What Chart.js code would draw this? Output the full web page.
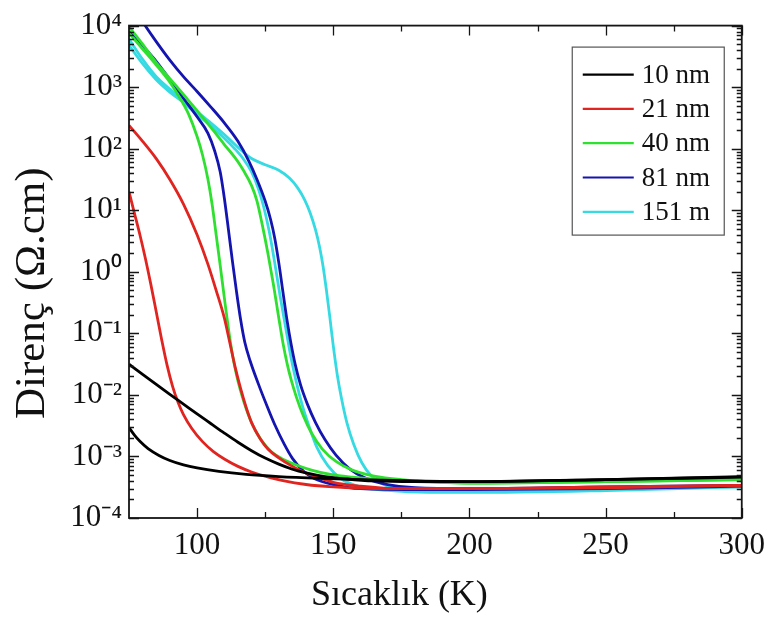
<!DOCTYPE html>
<html>
<head>
<meta charset="utf-8">
<script src="https://cdn.jsdelivr.net/npm/chart.js@4.4.1/dist/chart.umd.min.js"></script>
<style>
html,body{margin:0;padding:0;background:#ffffff;}
#wrap{width:774px;height:619px;}
</style>
</head>
<body>
<div id="wrap"><canvas id="c" width="774" height="619"></canvas></div>
<script>
// ---- axis definitions ----
const xTickValues = [100, 150, 200, 250, 300];
const xMinorTicks = [125, 175, 225, 275];
const yExponents = [-4, -3, -2, -1, 0, 1, 2, 3, 4];

// ---- series ----
const seriesLabels = ['10 nm', '21 nm', '40 nm', '81 nm', '151 m'];
const seriesColors = ['#000000', '#e02420', '#30e030', '#1414b0', '#35dae2'];

// 10 nm (two branches)
const T_10a = [75, 80, 85, 90, 95, 100, 105, 110, 115, 120, 125, 130, 135, 140, 147, 155, 165, 180, 200, 250, 300];
const R_10a = [0.0316, 0.0216, 0.0148, 0.0102, 0.00708, 0.0049, 0.00343, 0.0024, 0.0017, 0.00124, 0.00094, 0.00075, 0.00062, 0.00054, 0.00047, 0.00043, 0.0004, 0.00039, 0.00039, 0.00042, 0.00047];
const T_10b = [75, 77, 79, 82, 86, 90, 95, 100, 108, 118, 130, 145, 160, 180, 200, 250, 300];
const R_10b = [0.00295, 0.00222, 0.00176, 0.00134, 0.00104, 0.00086, 0.00073, 0.00065, 0.00057, 0.00051, 0.00047, 0.00044, 0.00042, 0.0004, 0.00039, 0.00042, 0.00046];

// 21 nm
const T_21a = [75, 80, 85, 90, 95, 100, 104, 107, 110, 112, 114, 116, 118, 120, 123, 126, 130, 135, 140, 145, 150, 160, 175, 200, 250, 300];
const R_21a = [240, 132, 69, 31.6, 12.6, 4.0, 1.32, 0.5, 0.178, 0.071, 0.028, 0.0126, 0.0063, 0.00355, 0.002, 0.00132, 0.00095, 0.00069, 0.00054, 0.00045, 0.00038, 0.00033, 0.0003, 0.0003, 0.00032, 0.00034];
const T_21b = [75, 77, 79, 81, 83, 85, 87, 89, 91, 93, 95, 98, 102, 106, 110, 115, 120, 125, 132, 140, 150, 165, 200, 250, 300];
const R_21b = [20, 8.9, 4.0, 1.66, 0.63, 0.224, 0.079, 0.0302, 0.0138, 0.00759, 0.00479, 0.00288, 0.00174, 0.0012, 0.00091, 0.00069, 0.00056, 0.00048, 0.0004, 0.00035, 0.00032, 0.0003, 0.0003, 0.00031, 0.00034];

// 40 nm
const T_40a = [75, 80, 85, 90, 94, 97, 100, 102, 104, 105.5, 107, 108.5, 110, 111.5, 113, 114.5, 116, 118, 120.5, 123.5, 127, 131, 136, 142, 149, 157, 167, 180, 200, 250, 300];
const R_40a = [7600, 4170, 2290, 1200, 631, 355, 158, 79, 31.6, 12.6, 4.0, 1.26, 0.38, 0.12, 0.0447, 0.0209, 0.0115, 0.006, 0.00316, 0.00186, 0.00123, 0.00093, 0.00074, 0.0006, 0.00051, 0.00046, 0.00042, 0.00039, 0.00037, 0.00039, 0.00042];
const T_40b = [75, 80, 85, 90, 95, 100, 105, 110, 114, 117, 120, 122, 124, 126, 128, 130, 131.5, 133, 134.5, 136.5, 139, 142, 146, 151, 157, 165, 175, 190, 200, 250, 300];
const R_40b = [9550, 5010, 2510, 1380, 759, 417, 224, 117, 70.8, 44.7, 25.1, 14.1, 5.62, 2.0, 0.631, 0.178, 0.0708, 0.0331, 0.0178, 0.00912, 0.00457, 0.0024, 0.00132, 0.00083, 0.0006, 0.00048, 0.00042, 0.00038, 0.00037, 0.00039, 0.00042];

// 81 nm
const T_81a = [75, 80, 85, 90, 95, 100, 105, 110, 115, 119, 122, 125, 127, 128.5, 130, 131.5, 133, 134.5, 136, 138, 140.5, 143.5, 147, 151, 156, 162, 170, 180, 200, 250, 300];
const R_81a = [25000, 11500, 5500, 2750, 1480, 851, 479, 263, 132, 63, 31.6, 14.1, 7.08, 3.55, 1.41, 0.479, 0.166, 0.0676, 0.0316, 0.0145, 0.00708, 0.00355, 0.00186, 0.00105, 0.00063, 0.00044, 0.00035, 0.00031, 0.0003, 0.00032, 0.00034];
const T_81b = [75, 80, 85, 90, 95, 100, 104, 106.5, 108.5, 110, 111.5, 113, 114.5, 116, 117.5, 119.5, 122.5, 125.5, 128.5, 132, 135, 139, 143, 150, 160, 180, 200, 250, 300];
const R_81b = [7940, 4680, 2630, 1320, 660, 331, 178, 91, 41.7, 15.8, 4.9, 1.46, 0.468, 0.166, 0.0724, 0.0355, 0.0151, 0.0069, 0.0033, 0.00158, 0.00093, 0.00058, 0.00044, 0.00035, 0.0003, 0.00029, 0.00029, 0.0003, 0.00033];

// 151 nm
const T_151a = [75, 80, 85, 90, 95, 100, 105, 110, 115, 120, 125, 130, 134, 137, 139.5, 141.5, 143.5, 145, 146.3, 147.5, 148.7, 150, 151.5, 153, 155, 157.5, 160.5, 164, 168.5, 176, 190, 200, 250, 300];
const R_151a = [6030, 2820, 1480, 933, 603, 398, 263, 170, 105, 69.2, 55, 44.7, 33.1, 22.9, 14.8, 9.12, 4.79, 2.51, 1.2, 0.5, 0.19, 0.063, 0.0209, 0.0089, 0.00355, 0.00158, 0.00079, 0.00048, 0.00035, 0.0003, 0.00028, 0.00028, 0.0003, 0.00032];
const T_151b = [75, 80, 85, 90, 95, 100, 105, 110, 114, 117, 120, 122.5, 124.5, 126.5, 128.5, 130.5, 132.5, 134.5, 136.5, 138.5, 141, 144, 148, 153, 160, 170, 185, 200, 250, 300];
const R_151b = [4790, 2400, 1320, 832, 562, 363, 234, 148, 98, 68, 42, 22.4, 11.2, 4.5, 1.41, 0.4, 0.126, 0.04, 0.0158, 0.0071, 0.0032, 0.0014, 0.00071, 0.00043, 0.00032, 0.00028, 0.00026, 0.00026, 0.00028, 0.00032];

const branches = [
  [T_10a, R_10a, 0, true], [T_10b, R_10b, 0, false],
  [T_21a, R_21a, 1, true], [T_21b, R_21b, 1, false],
  [T_40a, R_40a, 2, true], [T_40b, R_40b, 2, false],
  [T_81a, R_81a, 3, true], [T_81b, R_81b, 3, false],
  [T_151a, R_151a, 4, true], [T_151b, R_151b, 4, false]
];

const datasets = branches.map(([T, R, k, main]) => ({
  label: main ? seriesLabels[k] : seriesLabels[k] + ' ',
  data: T.map((t, i) => ({ x: t, y: R[i] })),
  borderColor: seriesColors[k],
  backgroundColor: seriesColors[k],
  borderWidth: 2.8,
  pointRadius: 0,
  fill: false,
  cubicInterpolationMode: 'monotone'
}));

const SUP = { '0': '\u2070', '1': '\u00B9', '2': '\u00B2', '3': '\u00B3', '4': '\u2074', '5': '\u2075', '6': '\u2076', '7': '\u2077', '8': '\u2078', '9': '\u2079', '-': '\u207B' };
const supText = (n) => String(n).split('').map(ch => SUP[ch]).join('');

const SERIF = '"Liberation Serif", "Times New Roman", serif';

const framePlugin = {
  id: 'frameTicks',
  afterDatasetsDraw(chart) {
    const { ctx, chartArea: a, scales: { x, y } } = chart;
    ctx.save();
    ctx.strokeStyle = '#151515';
    ctx.lineWidth = 1.3;
    ctx.beginPath();
    xTickValues.forEach(v => {
      const px = Math.round(x.getPixelForValue(v)) + 0.5;
      ctx.moveTo(px, a.bottom); ctx.lineTo(px, a.bottom - 10);
      ctx.moveTo(px, a.top); ctx.lineTo(px, a.top + 10);
    });
    xMinorTicks.forEach(v => {
      const px = Math.round(x.getPixelForValue(v)) + 0.5;
      ctx.moveTo(px, a.bottom); ctx.lineTo(px, a.bottom - 6);
      ctx.moveTo(px, a.top); ctx.lineTo(px, a.top + 6);
    });
    yExponents.forEach(e => {
      for (let m = 1; m <= 9; m++) {
        const v = m * Math.pow(10, e);
        if (v > 1.0001e4) break;
        const py = Math.round(y.getPixelForValue(v)) + 0.5;
        const len = m === 1 ? 10 : 5;
        ctx.moveTo(a.left, py); ctx.lineTo(a.left + len, py);
        ctx.moveTo(a.right, py); ctx.lineTo(a.right - len, py);
      }
    });
    ctx.stroke();
    ctx.lineWidth = 1.8;
    ctx.strokeRect(a.left, a.top, a.right - a.left, a.bottom - a.top);
    ctx.restore();
  }
};

const legendPlugin = {
  id: 'boxLegend',
  afterDraw(chart) {
    const { ctx, chartArea: a } = chart;
    const left = a.right - 170, top = a.top + 21, w = 152, h = 188;
    ctx.save();
    ctx.fillStyle = '#ffffff';
    ctx.fillRect(left, top, w, h);
    ctx.strokeStyle = '#555555';
    ctx.lineWidth = 1.2;
    ctx.strokeRect(left + 0.5, top + 0.5, w, h);
    ctx.font = '27px ' + SERIF;
    ctx.textBaseline = 'middle';
    ctx.textAlign = 'left';
    seriesLabels.forEach((lab, i) => {
      const yy = top + 28 + i * 34.3;
      ctx.strokeStyle = seriesColors[i];
      ctx.lineWidth = 2.2;
      ctx.beginPath();
      ctx.moveTo(left + 11, yy);
      ctx.lineTo(left + 62, yy);
      ctx.stroke();
      ctx.fillStyle = '#111111';
      ctx.fillText(lab, left + 70, yy + 1);
    });
    ctx.restore();
  }
};

new Chart(document.getElementById('c'), {
  type: 'line',
  data: { datasets },
  options: {
    responsive: false,
    animation: false,
    devicePixelRatio: 1,
    layout: { padding: { top: 24, right: 31, bottom: 0, left: 0 } },
    plugins: { legend: { display: false }, tooltip: { enabled: false } },
    scales: {
      x: {
        type: 'linear',
        min: 75,
        max: 300,
        grid: { display: false, drawTicks: false },
        border: { display: false },
        afterBuildTicks: (s) => { s.ticks = xTickValues.map(v => ({ value: v })); },
        afterFit: (s) => { s.height = 101; },
        ticks: {
          autoSkip: false, maxRotation: 0, padding: 9, color: '#111111',
          font: { family: SERIF, size: 31 },
          callback: (v) => String(v)
        },
        title: {
          display: true, text: 'Sıcaklık (K)        ', color: '#111111',
          font: { family: SERIF, size: 36 },
          padding: { top: 0, bottom: 2 }
        }
      },
      y: {
        type: 'logarithmic',
        min: 1e-4,
        max: 1e4,
        grid: { display: false, drawTicks: false },
        border: { display: false },
        afterBuildTicks: (s) => { s.ticks = yExponents.map(e => ({ value: Math.pow(10, e) })); },
        afterFit: (s) => { s.width = 129; },
        ticks: {
          autoSkip: false, padding: 7, color: '#111111',
          font: { family: SERIF, size: 31 },
          callback: (v) => '10' + supText(Math.round(Math.log10(v)))
        },
        title: {
          display: true, text: 'Direnç (Ω.cm)    ', color: '#111111',
          font: { family: SERIF, size: 43 },
          padding: { top: 7, bottom: 0 }
        }
      }
    }
  },
  plugins: [framePlugin, legendPlugin]
});
</script>
</body>
</html>
